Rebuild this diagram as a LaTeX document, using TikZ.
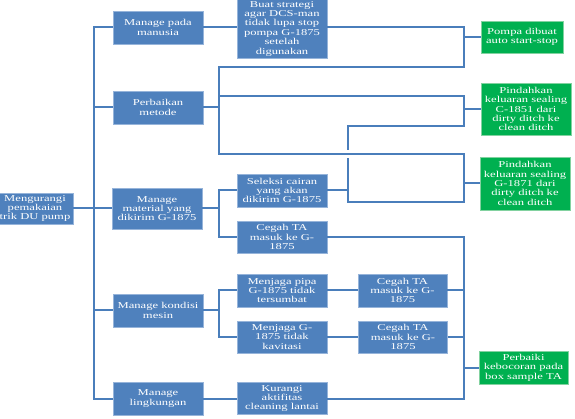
\documentclass[tikz,border=0pt]{standalone}
\usepackage{fontspec}
\setmainfont{Liberation Serif}[FakeStretch=1.4]
\definecolor{boxblue}{RGB}{79,129,189}
\definecolor{edgeblue}{RGB}{150,180,218}
\definecolor{linkblue}{RGB}{74,126,187}
\definecolor{boxgreen}{RGB}{0,176,80}
\definecolor{edgegreen}{RGB}{130,210,160}
\tikzset{
  bx/.style={draw=edgeblue, line width=0.8pt, fill=boxblue, text=white, align=center,
    inner sep=0pt, font=\fontsize{9}{9.4}\selectfont},
  lone/.style={bx, minimum width=90pt, minimum height=33pt},
  gx/.style={bx, fill=boxgreen, draw=edgegreen},
  conn/.style={draw=linkblue, line width=2pt},
}
\begin{document}
\begin{tikzpicture}[x=1pt,y=-1pt]
\useasboundingbox (0,0) rectangle (575,419);
\clip (0,0) rectangle (575,419);
% root
\node[bx, minimum width=76pt, minimum height=31pt] (root) at (35,208.5) {Mengurangi\\pemakaian\\trik DU pump};
% level 1
\node[lone] (m1) at (158,27.5) {Manage pada\\manusia};
\node[lone] (m2) at (158,107.5) {Perbaikan\\metode};
\node[lone, minimum height=41pt] (m3) at (157,208.5) {Manage\\material yang\\dikirim G-1875};
\node[lone] (m4) at (158,310.5) {Manage kondisi\\mesin};
\node[lone] (m5) at (158,398.5) {Manage\\lingkungan};
% level 2
\node[lone, minimum height=60pt] (buat) at (282,28.5) {Buat strategi\\agar DCS-man\\tidak lupa stop\\pompa G-1875\\setelah\\digunakan};
\node[lone] (sel) at (282,190.5) {Seleksi cairan\\yang akan\\dikirim G-1875};
\node[lone, minimum height=32pt] (ceg1) at (282,237) {Cegah TA\\masuk ke G-\\1875};
\node[lone] (mj1) at (282,290.5) {Menjaga pipa\\G-1875 tidak\\tersumbat};
\node[lone, minimum height=32pt] (mj2) at (282,337) {Menjaga G-\\1875 tidak\\kavitasi};
\node[lone, minimum height=32pt] (kur) at (282,398.5) {Kurangi\\aktifitas\\cleaning lantai};
% level 3
\node[lone, minimum width=89pt] (ceg2) at (402.5,290.5) {Cegah TA\\masuk ke G-\\1875};
\node[lone, minimum width=89pt, minimum height=32pt] (ceg3) at (403,337) {Cegah TA\\masuk ke G-\\1875};
% green
\node[gx, minimum width=82pt, minimum height=32pt] (g1) at (522,37) {Pompa dibuat\\auto start-stop};
\node[gx, minimum width=90pt, minimum height=52pt] (g2) at (526,109) {Pindahkan\\keluaran sealing\\C-1851 dari\\dirty ditch ke\\clean ditch};
\node[gx, minimum width=90pt, minimum height=53pt] (g3) at (525,183.5) {Pindahkan\\keluaran sealing\\G-1871 dari\\dirty ditch ke\\clean ditch};
\node[gx, minimum width=89pt, minimum height=33pt] (g4) at (523.5,367.5) {Perbaiki\\kebocoran pada\\box sample TA};
% junctions
\coordinate (a1) at (463.5,37);
\coordinate (a2) at (463.5,109);
\coordinate (a3) at (463.5,183.5);
\coordinate (a4) at (463.5,367.5);
% root to level 1
\foreach \m in {m1,m2,m3,m4,m5}{
  \draw[conn] (root.east) -- ++(21,0) |- (\m.west);
}
% manusia
\draw[conn] (m1.east) -- (m1.east -| buat.west);
\draw[conn] (buat.east |- m1.east) -| (a1) -- (g1.west);
% seleksi to green 2 and 3
\draw[conn] (sel.east) -| (348,126) -| (a2);
\draw[conn] (sel.east) -| (348,202) -| (a3);
\draw[white, line width=3pt] (348,150.5) -- (348,158.5);
% perbaikan metode
\draw[conn] (m2.east) -| (219,67) -| (a1);
\draw[conn] (m2.east) -| (219,96) -| (a2);
\draw[conn] (m2.east) -| (219,154) -| (a3);
\draw[conn] (a2) -- (g2.west);
\draw[conn] (a3) -- (g3.west);
% material
\draw[conn] (m3.east) -- ++(17,0) |- (sel.west);
\draw[conn] (m3.east) -- ++(17,0) |- (ceg1.west);
\draw[conn] (ceg1.east) -| (a4);
% kondisi mesin
\draw[conn] (m4.east) -- ++(16,0) |- (mj1.west);
\draw[conn] (m4.east) -- ++(16,0) |- (mj2.west);
\draw[conn] (mj1.east) -- (ceg2.west);
\draw[conn] (mj2.east) -- (ceg3.west);
\draw[conn] (ceg2.east) -| (a4);
\draw[conn] (ceg3.east) -| (a4);
% lingkungan
\draw[conn] (m5.east) -- (kur.west);
\draw[conn] (kur.east) -| (a4);
\draw[conn] (a4) -- (g4.west);
\end{tikzpicture}
\end{document}
